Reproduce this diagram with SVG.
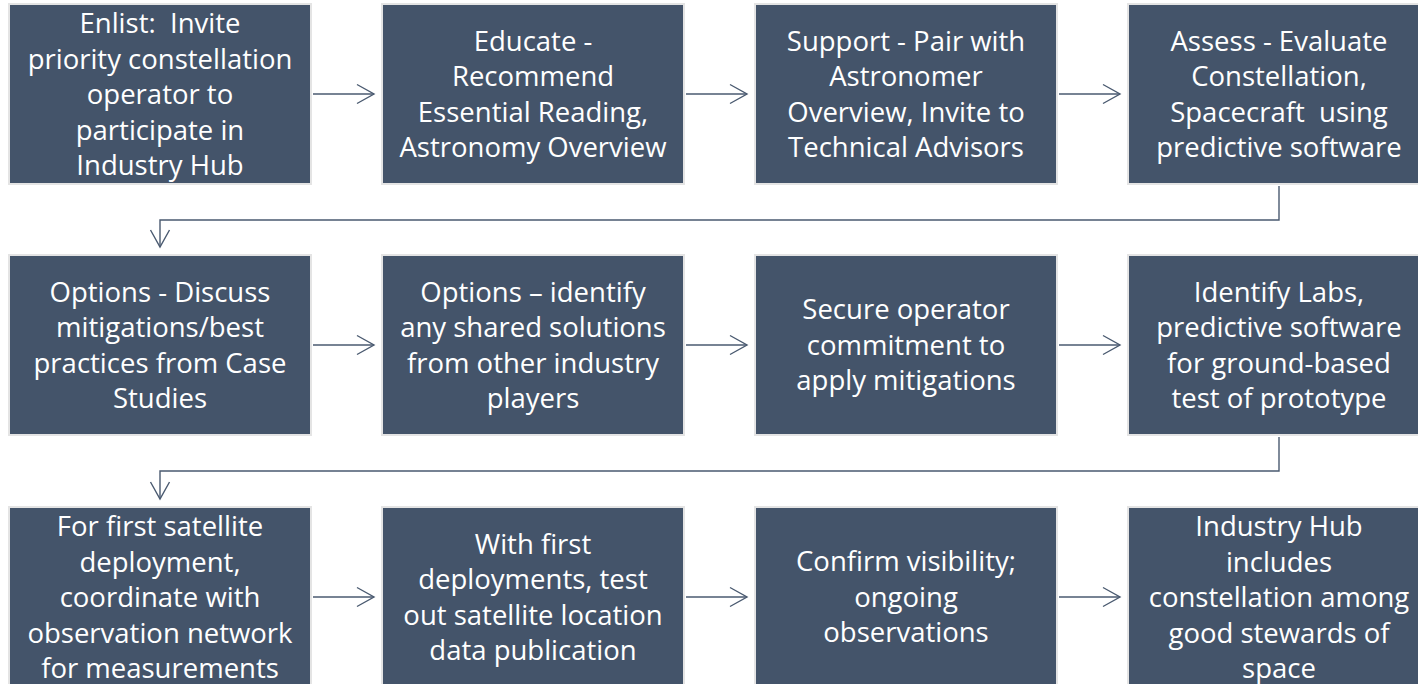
<svg xmlns="http://www.w3.org/2000/svg" width="1418" height="684" viewBox="0 0 1418 684">
  <style>
    .box { fill: #44546A; stroke: #E4E4E4; stroke-width: 2; }
    .lbl { fill: #FFFFFF; font-family: "Open Sans", "Noto Sans", "Liberation Sans", sans-serif; font-size: 27.5px; text-anchor: middle; }
    .conn { fill: none; stroke: #4A5A70; stroke-width: 1.4; }
  </style>
  <defs>
    <marker id="chev" markerUnits="userSpaceOnUse" markerWidth="24" markerHeight="24" viewBox="-20 -12 24 24" refX="0" refY="0" orient="auto">
      <path d="M-17,-9.5 L0,0 L-17,9.5" fill="none" stroke="#4A5A70" stroke-width="1.4"/>
    </marker>
  </defs>

  <rect width="1418" height="684" fill="#FFFFFF"/>

  <!-- connectors -->
  <g id="connectors">
    <path class="conn" d="M313,94 H374" marker-end="url(#chev)"/>
    <path class="conn" d="M686,94 H747" marker-end="url(#chev)"/>
    <path class="conn" d="M1059,94 H1120" marker-end="url(#chev)"/>
    <path class="conn" d="M1279,186 V220 H160 V247" marker-end="url(#chev)"/>
    <path class="conn" d="M313,345 H374" marker-end="url(#chev)"/>
    <path class="conn" d="M686,345 H747" marker-end="url(#chev)"/>
    <path class="conn" d="M1059,345 H1120" marker-end="url(#chev)"/>
    <path class="conn" d="M1279,437 V471 H160 V499" marker-end="url(#chev)"/>
    <path class="conn" d="M313,597 H374" marker-end="url(#chev)"/>
    <path class="conn" d="M686,597 H747" marker-end="url(#chev)"/>
    <path class="conn" d="M1059,597 H1120" marker-end="url(#chev)"/>
  </g>

  <!-- row 1 -->
  <g id="enlist">
    <rect class="box" x="9" y="4" width="302" height="180"/>
    <text class="lbl" xml:space="preserve"><tspan x="160" y="33">Enlist:  Invite</tspan><tspan x="160" y="68.5">priority constellation</tspan><tspan x="160" y="104">operator to</tspan><tspan x="160" y="139.5">participate in</tspan><tspan x="160" y="175">Industry Hub</tspan></text>
  </g>
  <g id="educate">
    <rect class="box" x="382" y="4" width="302" height="180"/>
    <text class="lbl"><tspan x="533" y="50.5">Educate -</tspan><tspan x="533" y="86">Recommend</tspan><tspan x="533" y="121.5">Essential Reading,</tspan><tspan x="533" y="157">Astronomy Overview</tspan></text>
  </g>
  <g id="support">
    <rect class="box" x="755" y="4" width="302" height="180"/>
    <text class="lbl"><tspan x="906" y="50.5">Support - Pair with</tspan><tspan x="906" y="86">Astronomer</tspan><tspan x="906" y="121.5">Overview, Invite to</tspan><tspan x="906" y="157">Technical Advisors</tspan></text>
  </g>
  <g id="assess">
    <rect class="box" x="1128" y="4" width="302" height="180"/>
    <text class="lbl" xml:space="preserve"><tspan x="1279" y="50.5">Assess - Evaluate</tspan><tspan x="1279" y="86">Constellation,</tspan><tspan x="1279" y="121.5">Spacecraft  using</tspan><tspan x="1279" y="157">predictive software</tspan></text>
  </g>

  <!-- row 2 -->
  <g id="options-discuss">
    <rect class="box" x="9" y="255" width="302" height="180"/>
    <text class="lbl"><tspan x="160" y="301.5">Options - Discuss</tspan><tspan x="160" y="337">mitigations/best</tspan><tspan x="160" y="372.5">practices from Case</tspan><tspan x="160" y="408">Studies</tspan></text>
  </g>
  <g id="options-identify">
    <rect class="box" x="382" y="255" width="302" height="180"/>
    <text class="lbl"><tspan x="533" y="301.5">Options – identify</tspan><tspan x="533" y="337">any shared solutions</tspan><tspan x="533" y="372.5">from other industry</tspan><tspan x="533" y="408">players</tspan></text>
  </g>
  <g id="secure">
    <rect class="box" x="755" y="255" width="302" height="180"/>
    <text class="lbl"><tspan x="906" y="319">Secure operator</tspan><tspan x="906" y="354.5">commitment to</tspan><tspan x="906" y="390">apply mitigations</tspan></text>
  </g>
  <g id="identify-labs">
    <rect class="box" x="1128" y="255" width="302" height="180"/>
    <text class="lbl"><tspan x="1279" y="301.5">Identify Labs,</tspan><tspan x="1279" y="337">predictive software</tspan><tspan x="1279" y="372.5">for ground-based</tspan><tspan x="1279" y="408">test of prototype</tspan></text>
  </g>

  <!-- row 3 -->
  <g id="first-deployment">
    <rect class="box" x="9" y="507" width="302" height="180"/>
    <text class="lbl"><tspan x="160" y="536">For first satellite</tspan><tspan x="160" y="571.5">deployment,</tspan><tspan x="160" y="607">coordinate with</tspan><tspan x="160" y="642.5">observation network</tspan><tspan x="160" y="678">for measurements</tspan></text>
  </g>
  <g id="test-publication">
    <rect class="box" x="382" y="507" width="302" height="180"/>
    <text class="lbl"><tspan x="533" y="553.5">With first</tspan><tspan x="533" y="589">deployments, test</tspan><tspan x="533" y="624.5">out satellite location</tspan><tspan x="533" y="660">data publication</tspan></text>
  </g>
  <g id="confirm">
    <rect class="box" x="755" y="507" width="302" height="180"/>
    <text class="lbl"><tspan x="906" y="571">Confirm visibility;</tspan><tspan x="906" y="606.5">ongoing</tspan><tspan x="906" y="642">observations</tspan></text>
  </g>
  <g id="industry-hub">
    <rect class="box" x="1128" y="507" width="302" height="180"/>
    <text class="lbl"><tspan x="1279" y="536">Industry Hub</tspan><tspan x="1279" y="571.5">includes</tspan><tspan x="1279" y="607">constellation among</tspan><tspan x="1279" y="642.5">good stewards of</tspan><tspan x="1279" y="678">space</tspan></text>
  </g>
</svg>
